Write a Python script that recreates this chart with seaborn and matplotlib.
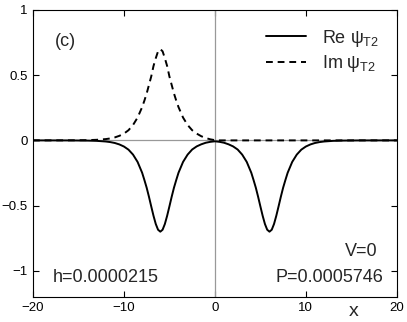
import numpy as np
import pandas as pd
import seaborn as sns
import matplotlib
matplotlib.use("Agg")
import matplotlib.pyplot as plt

# values (x grid and the two components of psi_T2)
x_vals = [-20, -18, -16, -14, -13, -12, -11.5, -11, -10.5, -10, -9.5, -9, -8.5, -8,
          -7.75, -7.5, -7.25, -7, -6.75, -6.5, -6.25, -6, -5.75, -5.5, -5.25, -5,
          -4.75, -4.5, -4.25, -4, -3.5, -3, -2.5, -2, -1.5, -1, -0.5, 0,
          0.5, 1, 1.5, 2, 2.5, 3, 3.5, 4, 4.25, 4.5, 4.75, 5, 5.25, 5.5, 5.75, 6,
          6.25, 6.5, 6.75, 7, 7.25, 7.5, 7.75, 8, 8.5, 9, 9.5, 10, 10.5, 11, 11.5,
          12, 13, 14, 16, 18, 20]

re_psi = [0.0, -0.0001, -0.0003, -0.0016, -0.0036, -0.0085, -0.013, -0.020, -0.031,
          -0.047, -0.071, -0.109, -0.165, -0.248,
          -0.304, -0.363, -0.432, -0.506, -0.578, -0.641, -0.685, -0.700,
          -0.685, -0.641, -0.578, -0.506, -0.432, -0.363, -0.304, -0.248,
          -0.165, -0.109, -0.070, -0.046, -0.030, -0.018, -0.011, -0.007,
          -0.011, -0.018, -0.030, -0.046, -0.070, -0.109, -0.165,
          -0.248, -0.304, -0.363, -0.432, -0.506, -0.578, -0.641, -0.685, -0.700,
          -0.685, -0.641, -0.578, -0.506, -0.432, -0.363, -0.304, -0.248,
          -0.165, -0.109, -0.071, -0.047, -0.031, -0.020, -0.013, -0.0085,
          -0.0036, -0.0016, -0.0003, -0.0001, 0.0]

im_psi = [0.0, 0.0001, 0.0004, 0.002, 0.0045, 0.010, 0.015, 0.023, 0.035, 0.052,
          0.078, 0.118, 0.175, 0.255,
          0.305, 0.360, 0.425, 0.490, 0.570, 0.630, 0.683, 0.700,
          0.683, 0.630, 0.570, 0.490, 0.425, 0.360, 0.305, 0.255,
          0.175, 0.118, 0.078, 0.052, 0.032, 0.018, 0.008, 0.002,
          0.0, 0.0, 0.0, 0.0, 0.0, 0.0, 0.0, 0.0, 0.0, 0.0, 0.0, 0.0, 0.0, 0.0,
          0.0, 0.0, 0.0, 0.0, 0.0, 0.0, 0.0, 0.0, 0.0, 0.0, 0.0, 0.0, 0.0, 0.0,
          0.0, 0.0, 0.0, 0.0, 0.0, 0.0, 0.0, 0.0, 0.0]

x_ticks = [-20, -10, 0, 10, 20]
y_ticks = [-1, -0.5, 0, 0.5, 1]
y_ticklabels = ['\u22121', '\u22120.5', '0', '0.5', '1']
x_ticklabels = ['\u221220', '\u221210', '0', '10', '20']

df = pd.DataFrame({'x': x_vals, 're': re_psi, 'im': im_psi})

sns.set_style('ticks')
plt.rcParams['font.family'] = ['Liberation Sans', 'DejaVu Sans']
plt.rcParams['mathtext.fontset'] = 'custom'
plt.rcParams['mathtext.rm'] = 'Liberation Sans'
plt.rcParams['mathtext.it'] = 'Liberation Sans'

fig = plt.figure(figsize=(4.07, 3.22), dpi=100)
ax = fig.add_axes([0.081, 0.078, 0.894, 0.891])

ax.axhline(0, color='#999999', lw=0.9, zorder=1)
ax.axvline(0, color='#999999', lw=0.9, zorder=1)

sns.lineplot(data=df, x='x', y='re', ax=ax, color='black', lw=1.4,
             sort=False, estimator=None, label=r'Re $\psi_{\rm T2}$')
sns.lineplot(data=df, x='x', y='im', ax=ax, color='black', lw=1.4,
             sort=False, estimator=None, label=r'Im $\psi_{\rm T2}$',
             linestyle=(0, (3.5, 2.5)))

ax.set_xlim(-20, 20)
ax.set_ylim(-1.2, 1)
ax.set_xticks(x_ticks)
ax.set_xticklabels(x_ticklabels)
ax.set_yticks(y_ticks)
ax.set_yticklabels(y_ticklabels)
ax.tick_params(direction='in', length=4, width=0.8, top=True, right=True,
               labelsize=9.5, colors='black', pad=4)
for s in ax.spines.values():
    s.set_visible(True)
    s.set_color('black')
    s.set_linewidth(0.8)
ax.set_xlabel('')
ax.set_ylabel('')

leg = ax.legend(loc='upper right', frameon=False, fontsize=13,
                handlelength=2.2, handletextpad=0.9, labelspacing=0.25,
                bbox_to_anchor=(0.995, 0.995))

ax.text(0.06, 0.86, '(c)', transform=ax.transAxes, fontsize=13, va='bottom')
ax.text(0.055, 0.066, 'h=0.0000215', transform=ax.transAxes, fontsize=13, va='center')
ax.text(0.948, 0.157, 'V=0', transform=ax.transAxes, fontsize=13, ha='right', va='center')
ax.text(0.964, 0.066, 'P=0.0005746', transform=ax.transAxes, fontsize=13, ha='right', va='center')
ax.text(0.88, -0.05, 'x', transform=ax.transAxes, fontsize=14, ha='center', va='center')

fig.savefig('out.png', dpi=100)
